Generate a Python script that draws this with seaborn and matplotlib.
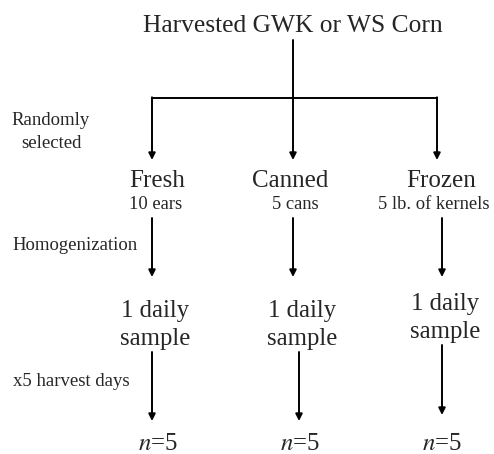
import matplotlib
matplotlib.use("Agg")
import matplotlib.pyplot as plt
import seaborn as sns

# labels of the flow chart
title = "Harvested GWK or WS Corn"
products = ["Fresh", "Canned", "Frozen"]
amounts = ["10 ears", "5 cans", "5 lb. of kernels"]
samples = ["1 daily", "1 daily", "1 daily"]
sample2 = ["sample", "sample", "sample"]
steps = ["Randomly\nselected", "Homogenization", "x5 harvest days"]
n_total = [5, 5, 5]

sns.set_style("white")
plt.rcParams["font.family"] = ["Liberation Serif", "DejaVu Serif"]
plt.rcParams["mathtext.fontset"] = "stix"

fig = plt.figure(figsize=(4.94, 4.54), dpi=100)
ax = fig.add_axes([0, 0, 1, 1])
ax.set_xlim(0, 494)
ax.set_ylim(454, 0)
ax.axis("off")

# layout (pixel coords)
col_x = [152, 293, 437]
arr_kw = dict(arrowstyle="-|>", lw=1.4, color="black", mutation_scale=10,
              shrinkA=0, shrinkB=0)


def arrow(x, y0, y1):
    ax.annotate("", xy=(x, y1), xytext=(x, y0), arrowprops=arr_kw)


ax.text(293, 32, title, ha="center", va="baseline", fontsize=18.4)

# trunk + branches
ax.plot([293, 293], [40, 98], color="black", lw=1.4)
ax.plot([col_x[0], col_x[2]], [98, 98], color="black", lw=1.4)
for x in col_x:
    arrow(x, 97.3, 160)

# step labels on the left
ax.text(51, 125, "Randomly", ha="center", va="baseline", fontsize=13.5)
ax.text(51, 148, "selected", ha="center", va="baseline", fontsize=13.5)
ax.text(75, 250, steps[1], ha="center", va="baseline", fontsize=13.5)
ax.text(71, 386, steps[2], ha="center", va="baseline", fontsize=13.5)

prod_x = [157, 290, 441]
amt_x = [156, 295, 434]
smp_x = [155, 302, 445]
smp_dy = [0, 0, -7]
arr2_x = [152, 293, 442]
arr3_x = [152, 299, 442]
arr3_end = [421, 421, 415]
n_x = [158, 300, 442]

for i in range(3):
    ax.text(prod_x[i], 187, products[i], ha="center", va="baseline", fontsize=18)
    ax.text(amt_x[i], 209, amounts[i], ha="center", va="baseline", fontsize=13.3)
    arrow(arr2_x[i], 218, 277)
    ax.text(smp_x[i], 317 + smp_dy[i], samples[i], ha="center", va="baseline", fontsize=17.8)
    ax.text(smp_x[i], 345 + smp_dy[i], sample2[i], ha="center", va="baseline", fontsize=17.8)
    arrow(arr3_x[i], 352 + smp_dy[i], arr3_end[i])
    ax.text(n_x[i], 450, f"$\\it{{n}}$={n_total[i]}", ha="center", va="baseline",
            fontsize=17.8)

fig.savefig("out.png", dpi=100)
